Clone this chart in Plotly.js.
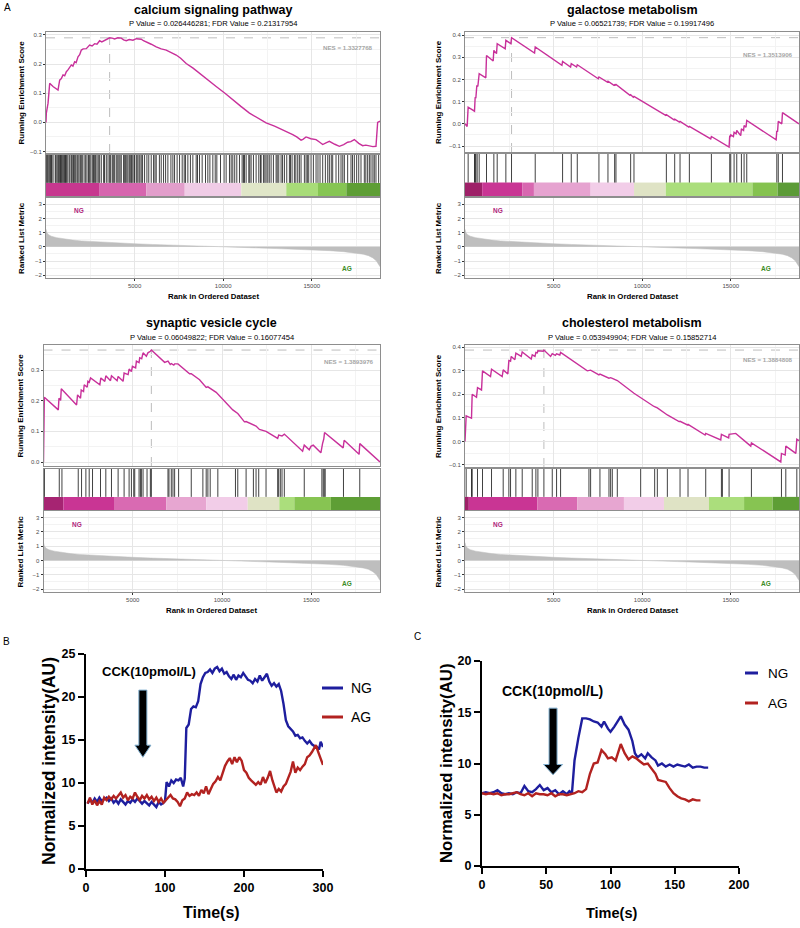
<!DOCTYPE html>
<html><head><meta charset="utf-8">
<script src="https://cdn.plot.ly/plotly-3.0.1.min.js"></script>
<style>html,body{margin:0;padding:0;background:#fff}#chart{width:800px;height:928px}</style>
</head><body><div id="chart"></div>
<script>
// ================= DATA =================
// Ranked list metric (shared ranked gene list)
const rankedRanks  = [1, 50, 150, 300, 600, 1000, 1500, 2000, 3000, 4000, 5000, 6000, 7000, 8000, 9000, 10000, 11000, 12000, 13000, 14000, 15000, 16000, 16800, 17400, 17900, 18200, 18450, 18650, 18850];
const rankedMetric = [1.25, 1.0, 0.85, 0.75, 0.65, 0.56, 0.48, 0.42, 0.34, 0.28, 0.22, 0.17, 0.12, 0.08, 0.04, 0.0, -0.04, -0.08, -0.12, -0.16, -0.21, -0.27, -0.34, -0.42, -0.52, -0.62, -0.78, -1.0, -1.4];
const rankTicks = [5000, 10000, 15000];

// --- calcium signaling pathway ---
const calciumTitle = 'calcium signaling pathway';
const calciumStats = 'P Value = 0.026446281; FDR Value = 0.21317954';
const calciumNES = 'NES = 1.3327768';
const calciumEsRank = [0,20,115,208,396,678,772,866,960,1054,1148,1240,1430,1520,1618,1700,1806,1900,1994,2100,2275,2370,2463,2600,2745,2877,3027,3150,3309,3450,3591,3741,3873,4050,4248,4380,4530,4700,4906,5100,5250,5376,5500,5658,5939,6221,6503,6785,7070,7349,7600,7912,8300,8664,9100,9604,10100,10543,11000,11483,11950,12422,12900,13362,13650,13925,14150,14395,14500,14677,14950,15241,15450,15616,15800,15992,16300,16556,16800,17025,17200,17402,17650,17871,18050,18247,18450,18623,18650,18717,18850];
const calciumEsScore = [0,0.032,0.066,0.134,0.123,0.111,0.145,0.150,0.163,0.160,0.174,0.180,0.197,0.193,0.208,0.205,0.225,0.232,0.248,0.252,0.253,0.258,0.265,0.262,0.270,0.268,0.280,0.276,0.282,0.285,0.290,0.289,0.286,0.290,0.289,0.283,0.280,0.284,0.282,0.287,0.285,0.285,0.280,0.276,0.268,0.259,0.252,0.248,0.240,0.231,0.220,0.202,0.186,0.168,0.145,0.123,0.100,0.077,0.055,0.032,0.015,-0.002,-0.013,-0.025,-0.035,-0.042,-0.050,-0.061,-0.058,-0.050,-0.056,-0.059,-0.068,-0.076,-0.070,-0.065,-0.075,-0.082,-0.076,-0.068,-0.066,-0.059,-0.072,-0.080,-0.078,-0.080,-0.083,-0.082,-0.050,0.000,0.004];
const calciumHits = [20,77,130,208,246,300,330,400,520,560,620,678,720,772,820,866,910,960,1010,1054,1100,1148,1200,1298,1350,1430,1480,1550,1600,1674,1749,1800,1862,1937,1990,2050,2150,2238,2313,2400,2463,2530,2614,2680,2745,2800,2877,2950,3027,3121,3252,3300,3403,3500,3591,3650,3741,3800,3873,3967,4050,4117,4180,4248,4380,4420,4493,4560,4624,4700,4756,4820,4868,4962,5000,5094,5150,5244,5300,5376,5450,5564,5695,5800,5939,6071,6150,6221,6400,6503,6635,6750,6879,7050,7161,7255,7400,7537,7687,7800,7875,8006,8150,8288,8476,8550,8664,8814,9002,9134,9250,9416,9550,9641,9848,10050,10167,10355,10450,10543,10650,10769,10919,11069,11150,11201,11295,11445,11500,11576,11708,11858,12008,12100,12140,12272,12350,12422,12516,12600,12704,12835,12986,13050,13136,13268,13350,13455,13587,13737,13800,13888,14019,14100,14207,14300,14395,14583,14677,14750,14827,14959,15090,15241,15350,15466,15616,15767,15900,15992,16100,16180,16368,16518,16650,16750,16838,17025,17213,17300,17402,17533,17650,17777,17965,18050,18153,18250,18341,18450,18529,18623,18773];
const calciumBandStart = [0,3030,5660,7830,11020,13560,15350,16950];
const calciumBandEnd   = [3030,5660,7830,11020,13560,15350,16950,18850];
const calciumBandColor = ['#C7378F','#D665AE','#E29ECB','#F0CCE6','#E0E6C8','#A8DC78','#86C553','#5E9E35'];

// --- galactose metabolism ---
const galactoseTitle = 'galactose metabolism';
const galactoseStats = 'P Value = 0.06521739; FDR Value = 0.19917496';
const galactoseNES = 'NES = 1.3513906';
const galactoseEsRank = [0,122,178,536,574,612,668,724,800,1176,1214,1591,1628,1779,1817,2269,2306,2589,2627,3926,3963,5470,5507,5959,5997,6298,6336,7522,7560,8031,8068,8407,8445,8480,8520,9310,9349,9500,9537,11326,11364,11797,11835,12100,12136,12630,12663,13868,13906,14904,14941,14970,14998,15150,15186,15300,15337,15560,15600,15720,15751,15860,15902,17560,17597,17640,17680,17880,17917,18850];
const galactoseEsScore = [0,-0.012,0.075,0.057,0.120,0.115,0.173,0.168,0.226,0.207,0.308,0.283,0.331,0.316,0.361,0.338,0.376,0.361,0.388,0.319,0.346,0.263,0.281,0.256,0.271,0.256,0.266,0.203,0.211,0.188,0.192,0.173,0.176,0.174,0.177,0.128,0.131,0.120,0.123,0.038,0.041,0.018,0.021,0.008,0.011,-0.015,-0.012,-0.068,-0.057,-0.105,-0.053,-0.060,-0.050,-0.058,-0.038,-0.045,-0.030,-0.053,-0.023,-0.030,-0.008,-0.015,0.015,-0.072,-0.032,-0.036,0.011,0.000,0.050,0.000];
const galactoseHits = [178,536,574,612,687,800,1214,1628,1817,2306,2626,3963,5507,5997,6336,7560,8068,8445,8520,9349,9537,11364,11835,12136,12663,13906,14941,14998,15186,15337,15600,15751,15902,17597,17680,17917];
const galactoseBandStart = [0,970,3230,3890,7090,9540,11330,16220,17640];
const galactoseBandEnd   = [970,3230,3890,7090,9540,11330,16220,17640,18850];
const galactoseBandColor = ['#9E2068','#C93594','#D867B0','#E6A3D0','#F2CDE8','#DFE3C5','#ABDE7C','#85C24F','#5C9B37'];

// --- synaptic vesicle cycle ---
const synapticTitle = 'synaptic vesicle cycle';
const synapticStats = 'P Value = 0.06049822; FDR Value = 0.16077454';
const synapticNES = 'NES = 1.3893976';
const synapticEsRank = [0,28,47,829,866,960,996,1853,1908,2075,2113,2243,2281,2449,2486,2560,2635,3156,3212,3435,3491,3752,3808,4124,4180,4459,4515,4740,4795,4925,4981,5160,5204,5353,5390,5500,5577,5763,5850,5986,6042,6787,6850,6973,7100,7159,7300,7346,7532,8183,8277,8742,9114,9208,9673,10200,10604,10883,11256,11349,11721,11907,12094,12466,13118,13174,13360,13490,14514,14607,14887,14980,15110,15538,15631,15700,15743,16786,16842,17680,17717,18850];
const synapticEsScore = [0,0.126,0.211,0.170,0.208,0.201,0.239,0.186,0.219,0.208,0.235,0.230,0.252,0.244,0.263,0.260,0.274,0.252,0.274,0.263,0.281,0.265,0.281,0.265,0.279,0.263,0.290,0.285,0.303,0.295,0.312,0.307,0.329,0.324,0.340,0.337,0.356,0.345,0.356,0.361,0.365,0.325,0.326,0.329,0.318,0.321,0.316,0.320,0.320,0.288,0.288,0.268,0.243,0.245,0.227,0.195,0.170,0.158,0.131,0.132,0.123,0.117,0.106,0.100,0.077,0.088,0.085,0.091,0.035,0.055,0.040,0.051,0.055,0.030,0.060,0.075,0.096,0.046,0.071,0.025,0.060,0.000];
const synapticHits = [20,45,884,1033,1946,2132,2374,2560,2746,3193,3491,3808,4180,4515,4795,4925,5055,5111,5353,5428,5484,5577,5800,5986,6042,6973,7029,7159,7252,7346,7569,8277,8928,9114,9208,9338,9766,10753,10883,11349,11758,11907,12056,12466,13118,13174,13267,13360,13490,14607,15594,15669,15725,15780,16804,17716];
const synapticBandStart = [0,1110,3990,6880,9120,11440,13210,14050,16100];
const synapticBandEnd   = [1110,3990,6880,9120,11440,13210,14050,16100,18850];
const synapticBandColor = ['#A62472','#C93594','#D96AB2','#E7A6D1','#F2CDE8','#DFE3C5','#ABDE7C','#87C452','#5E9E35'];

// --- cholesterol metabolism ---
const cholesterolTitle = 'cholesterol metabolism';
const cholesterolStats = 'P Value = 0.053949904; FDR Value = 0.15852714';
const cholesterolNES = 'NES = 1.3884808';
const cholesterolEsRank = [0,66,367,405,649,706,932,988,1440,1497,2099,2156,2419,2476,2570,2608,2815,2871,3173,3229,3737,3794,3950,4001,4080,4114,4415,4453,4830,4924,5100,5168,5350,5394,6901,6995,7089,7560,7616,8125,8219,8313,8596,9537,9914,10667,10855,11420,12079,12136,12550,12587,13550,13586,14433,14471,14527,14880,14904,15280,16127,16165,17822,17860,18070,18106,18671,18727,18850];
const cholesterolEsScore = [0,0.108,0.098,0.200,0.187,0.228,0.218,0.299,0.275,0.306,0.275,0.303,0.286,0.343,0.340,0.360,0.346,0.374,0.360,0.379,0.349,0.367,0.360,0.377,0.375,0.384,0.382,0.387,0.360,0.372,0.365,0.371,0.366,0.377,0.299,0.302,0.302,0.282,0.285,0.268,0.270,0.267,0.258,0.204,0.185,0.148,0.142,0.112,0.084,0.085,0.070,0.072,0.027,0.034,0.006,0.030,0.028,0.015,0.030,0.034,-0.020,-0.006,-0.087,-0.051,-0.058,-0.020,-0.051,0.009,0.003];
const cholesterolHits = [66,367,405,706,988,1497,2156,2476,2570,2871,3229,3794,4001,4114,4453,4924,5168,5394,6995,7089,7616,8125,8219,8313,8596,9914,10704,10855,11420,12136,12587,13586,14471,14527,14904,16165,17860,18105,18727];
const cholesterolBandStart = [0,215,4080,6340,8970,11230,13770,15750,17360];
const cholesterolBandEnd   = [215,4080,6340,8970,11230,13770,15750,17360,18850];
const cholesterolBandColor = ['#9E2068','#C93594','#D96AB2','#E7A6D1','#F2CDE8','#DFE3C5','#ABDE7C','#87C452','#5E9E35'];

// --- Panel B: calcium imaging (300 s) ---
const timeB_NG = [2,5,8,11,14,17,20,23,26,29,32,35,38,41,44,47,50,53,56,59,62,65,68,71,74,77,80,83,86,89,92,95,98,100,102,105,108,111,114,117,120,123,125,127,130,133,136,139,142,145,148,151,154,157,160,163,166,169,172,175,178,181,184,187,190,193,196,199,202,205,208,211,214,217,220,223,226,229,232,235,238,241,244,247,250,253,256,259,262,265,268,271,274,277,280,283,286,289,292,295,297,300];
const valB_NG  = [7.6,8.1,7.7,8.2,7.8,8.3,7.9,8.1,8.3,7.9,8.2,7.7,8.0,7.6,8.1,7.8,7.5,7.9,7.7,8.1,7.8,8.2,7.9,7.6,7.9,7.7,7.4,7.8,7.5,7.2,7.8,7.5,7.7,7.9,10.1,9.6,10.3,10.0,10.4,10.3,10.6,9.6,10.5,16.4,16.8,18.6,18.9,18.8,19.5,21.5,22.3,22.8,22.9,23.2,22.8,23.3,23.5,23.0,23.3,22.7,22.9,22.4,22.1,22.6,22.0,22.5,22.3,22.8,22.4,22.0,21.9,21.6,22.1,21.8,22.5,21.9,22.3,22.7,21.8,21.3,21.6,21.2,21.5,20.7,19.2,17.3,16.6,16.3,16.0,15.5,15.6,15.2,15.3,14.9,14.6,14.9,14.5,14.3,14.2,13.9,14.8,14.2];
const timeB_AG = [2,5,8,11,14,17,20,23,26,29,32,35,38,41,44,47,50,53,56,59,62,65,68,71,74,77,80,83,86,89,92,95,98,101,104,107,110,113,116,119,122,125,128,131,134,137,140,143,146,149,152,155,158,161,164,167,170,173,176,179,182,185,188,191,194,197,200,203,206,209,212,215,218,221,224,227,230,233,236,239,241,244,247,250,253,256,259,262,265,268,271,274,277,280,283,286,289,291,294,297,300];
const valB_AG  = [7.6,8.3,7.5,8.0,7.4,7.9,7.5,8.3,8.0,8.4,8.1,8.5,8.2,8.6,8.9,8.3,8.6,8.0,8.4,8.2,8.9,8.4,8.0,8.5,8.2,8.6,8.1,8.4,7.9,8.3,7.8,8.2,7.7,8.0,8.3,8.6,8.2,8.1,7.8,7.3,8.0,8.2,8.9,8.5,8.7,8.6,8.9,8.5,9.2,8.8,9.6,8.7,9.3,9.9,10.2,10.7,10.3,11.2,12.0,12.5,12.9,12.2,13.0,12.4,13.0,12.6,11.5,11.2,10.6,10.3,10.0,9.8,10.1,9.8,10.7,10.0,10.6,11.4,10.3,9.4,8.9,9.3,9.0,9.6,9.9,10.6,11.3,12.5,11.2,11.8,11.5,11.9,12.2,13.0,13.2,13.6,14.0,14.4,13.6,12.8,12.1];

// --- Panel C: calcium imaging (180 s) ---
const timeC_NG = [0,3,6,9,12,15,18,21,24,27,30,33,36,39,42,45,48,51,54,57,60,63,66,68,70,72,75,78,81,84,87,90,93,95,98,100,103,106,108,111,114,117,119,121,124,127,129,132,135,137,140,143,146,149,152,155,158,161,164,167,170,173,176];
const valC_NG  = [7.1,7.2,7.1,7.2,7.4,7.1,7.0,7.1,7.0,7.2,7.1,7.8,7.3,7.2,7.5,7.9,7.4,7.6,7.2,7.4,7.0,7.3,7.0,7.3,7.1,10.3,12.5,14.4,14.4,14.3,14.1,14.0,13.6,14.1,13.4,13.1,13.6,14.2,14.6,13.8,13.3,12.2,11.0,10.6,10.9,10.5,11.0,10.6,10.3,9.8,10.0,9.7,9.9,9.7,9.9,9.8,9.7,9.9,9.6,9.7,9.7,9.6,9.6];
const timeC_AG = [0,3,6,9,12,15,18,21,24,27,30,33,36,39,42,45,48,51,54,57,60,63,66,69,72,75,78,81,84,87,90,93,96,98,101,104,106,108,111,114,117,120,123,126,129,132,135,137,140,143,146,149,152,155,158,161,164,167,170,173,176];
const valC_AG  = [7.1,7.0,7.1,7.0,7.1,6.9,7.0,7.0,7.1,7.2,7.0,6.9,7.1,6.8,7.1,7.0,7.0,6.9,7.1,6.8,7.0,7.0,6.9,7.0,7.1,7.3,7.2,7.5,9.0,10.0,10.1,11.3,10.9,10.5,10.6,10.3,11.0,11.9,11.0,10.4,10.7,10.5,10.2,9.9,10.0,9.5,9.0,8.4,8.3,8.2,7.6,7.1,6.8,6.6,6.5,6.3,6.5,6.4,6.4];

const seriesNames = ['NG', 'AG'];
const stimulusLabel = 'CCK(10pmol/L)';

// ================= LAYOUT HELPERS =================
const W = 800, H = 928;
const FONT = 'Liberation Sans, Arial, Helvetica, sans-serif';
const PX = x => x / W, PY = y => 1 - y / H;
const XMAX = 18850;
const BORDER = '#8E8E8E', GRID = '#E6E6E6', GRID2 = '#F3F3F3';
const ES_COLOR = '#C8309A';
const NG_COLOR = '#1E1E9E', AG_COLOR = '#B22220';

const traces = [];
const layout = {
  width: W, height: H, margin: {l: 0, r: 0, t: 0, b: 0},
  paper_bgcolor: '#fff', plot_bgcolor: '#fff', showlegend: false,
  barmode: 'overlay', hovermode: false, annotations: [], shapes: []
};
const axName = (c, n) => c + 'axis' + (n === 1 ? '' : n);
const ref = (c, n) => c + (n === 1 ? '' : n);

function ann(text, x, y, font, extra) {
  layout.annotations.push(Object.assign({
    text, x: PX(x), y: PY(y), xref: 'paper', yref: 'paper', showarrow: false,
    xanchor: 'center', yanchor: 'middle', font: Object.assign({family: FONT, color: '#000'}, font)
  }, extra || {}));
}

const panels = [
  {title: calciumTitle, stats: calciumStats, nes: calciumNES, esR: calciumEsRank, esS: calciumEsScore, hits: calciumHits,
   bS: calciumBandStart, bE: calciumBandEnd, bC: calciumBandColor,
   x0: 46, x1: 380, esT: 32, esB: 153, rT: 155, rB: 196, mT: 198, mB: 278, esRange: [-0.105, 0.31],
   tY: 10, sY: 24, nesX: 375, nesY: 47.5, ngX: 79, ngY: 211, agX: 347, agY: 269, ytX: 21, xtY: 296},
  {title: galactoseTitle, stats: galactoseStats, nes: galactoseNES, esR: galactoseEsRank, esS: galactoseEsScore, hits: galactoseHits,
   bS: galactoseBandStart, bE: galactoseBandEnd, bC: galactoseBandColor,
   x0: 465, x1: 799, esT: 32, esB: 152, rT: 154, rB: 196, mT: 198, mB: 278, esRange: [-0.127, 0.4135],
   tY: 10, sY: 24, nesX: 795, nesY: 54, ngX: 498, ngY: 211, agX: 766, agY: 269, ytX: 438, xtY: 296},
  {title: synapticTitle, stats: synapticStats, nes: synapticNES, esR: synapticEsRank, esS: synapticEsScore, hits: synapticHits,
   bS: synapticBandStart, bE: synapticBandEnd, bC: synapticBandColor,
   x0: 43.5, x1: 380, esT: 345, esB: 466, rT: 469, rB: 510, mT: 511, mB: 592, esRange: [-0.013, 0.3815],
   tY: 323, sY: 337, nesX: 376, nesY: 361.5, ngX: 77, ngY: 524, agX: 347, agY: 583, ytX: 20, xtY: 610},
  {title: cholesterolTitle, stats: cholesterolStats, nes: cholesterolNES, esR: cholesterolEsRank, esS: cholesterolEsScore, hits: cholesterolHits,
   bS: cholesterolBandStart, bE: cholesterolBandEnd, bC: cholesterolBandColor,
   x0: 465, x1: 799, esT: 345, esB: 467, rT: 469, rB: 510, mT: 511, mB: 592, esRange: [-0.1085, 0.4085],
   tY: 323, sY: 337, nesX: 795, nesY: 359, ngX: 498, ngY: 524, agX: 766, agY: 583, ytX: 438, xtY: 610}
];

const tickFontSmall = {family: FONT, size: 6, color: '#4D4D4D'};
const minorX = {tickmode: 'array', tickvals: [2500, 7500, 12500, 17500], showgrid: true, gridcolor: GRID2, ticks: ''};

panels.forEach((p, k) => {
  const n1 = 3 * k + 1, n2 = n1 + 1, n3 = n1 + 2;
  const xd = [PX(p.x0), PX(p.x1)];
  const baseX = {domain: xd, range: [0, XMAX], showline: true, mirror: true, linecolor: BORDER, linewidth: 1,
                 zeroline: false, fixedrange: true, automargin: false};
  // ES subplot
  layout[axName('x', n1)] = Object.assign({}, baseX, {anchor: ref('y', n1), showticklabels: false, ticks: '',
    showgrid: true, gridcolor: GRID, tickmode: 'array', tickvals: rankTicks, minor: minorX});
  layout[axName('y', n1)] = {domain: [PY(p.esB), PY(p.esT)], range: p.esRange, anchor: ref('x', n1),
    tick0: 0, dtick: 0.1, tickformat: '.1f', ticks: 'outside', ticklen: 2, tickcolor: '#333', tickfont: tickFontSmall,
    showgrid: true, gridcolor: GRID, minor: {tick0: 0, dtick: 0.05, showgrid: true, gridcolor: GRID2, ticks: ''},
    showline: true, mirror: true, linecolor: BORDER, linewidth: 1, zeroline: false, fixedrange: true, automargin: false};
  // rug subplot
  layout[axName('x', n2)] = Object.assign({}, baseX, {anchor: ref('y', n2), showticklabels: false, ticks: '', showgrid: false});
  layout[axName('y', n2)] = {domain: [PY(p.rB), PY(p.rT)], range: [0, 1], anchor: ref('x', n2), showticklabels: false,
    ticks: '', showgrid: false, showline: true, mirror: true, linecolor: BORDER, linewidth: 1, zeroline: false, fixedrange: true};
  // metric subplot
  layout[axName('x', n3)] = Object.assign({}, baseX, {anchor: ref('y', n3), tickmode: 'array', tickvals: rankTicks,
    ticktext: rankTicks.map(String), ticks: 'outside', ticklen: 2, tickcolor: '#333', tickfont: tickFontSmall,
    showgrid: true, gridcolor: GRID, minor: minorX});
  layout[axName('y', n3)] = {domain: [PY(p.mB), PY(p.mT)], range: [-2.2, 3.45], anchor: ref('x', n3),
    tick0: 0, dtick: 1, ticks: 'outside', ticklen: 2, tickcolor: '#333', tickfont: tickFontSmall,
    showgrid: true, gridcolor: GRID, minor: {tick0: 0, dtick: 0.5, showgrid: true, gridcolor: GRID2, ticks: ''},
    showline: true, mirror: true, linecolor: BORDER, linewidth: 1, zeroline: false, fixedrange: true, automargin: false};

  // running enrichment score
  traces.push({type: 'scatter', mode: 'lines', x: p.esR, y: p.esS, xaxis: ref('x', n1), yaxis: ref('y', n1),
    line: {color: ES_COLOR, width: 1.4}, hoverinfo: 'skip'});
  // max ES dashed guides (derived from data)
  let im = 0; p.esS.forEach((v, i) => { if (v > p.esS[im]) im = i; });
  const maxR = p.esR[im], maxS = p.esS[im];
  layout.shapes.push({type: 'line', xref: ref('x', n1), yref: ref('y', n1), x0: maxR, x1: maxR, y0: p.esRange[0], y1: maxS,
    line: {color: '#B5B5B5', width: 0.9, dash: 'dash'}, layer: 'below'});
  layout.shapes.push({type: 'line', xref: ref('x', n1), yref: ref('y', n1), x0: 0, x1: XMAX, y0: maxS, y1: maxS,
    line: {color: '#B5B5B5', width: 0.9, dash: 'dash'}, layer: 'below'});

  // hit rug
  const rx = [], ry = [];
  p.hits.forEach(h => { rx.push(h, h, null); ry.push(0.32, 1, null); });
  traces.push({type: 'scatter', mode: 'lines', x: rx, y: ry, xaxis: ref('x', n2), yaxis: ref('y', n2),
    line: {color: '#111', width: 0.8}, hoverinfo: 'skip'});
  // colour band
  traces.push({type: 'bar', x: p.bS, y: p.bS.map(() => 0.32), base: 0, width: p.bE.map((e, i) => e - p.bS[i]), offset: 0,
    xaxis: ref('x', n2), yaxis: ref('y', n2), marker: {color: p.bC, line: {width: 0}}, hoverinfo: 'skip'});

  // ranked list metric
  traces.push({type: 'scatter', mode: 'lines', x: rankedRanks, y: rankedMetric, fill: 'tozeroy', fillcolor: '#BEBEBE',
    line: {color: '#BEBEBE', width: 0.5}, xaxis: ref('x', n3), yaxis: ref('y', n3), hoverinfo: 'skip'});

  const cx = (p.x0 + p.x1) / 2;
  ann(p.title, cx, p.tY, {size: 12.5, weight: 'bold'});
  ann(p.stats, cx, p.sY, {size: 7.6});
  ann(p.nes, p.nesX, p.nesY, {size: 6.2, weight: 'bold', color: '#A6A6A6'}, {xanchor: 'right'});
  ann(seriesNames[0], p.ngX, p.ngY, {size: 6.5, weight: 'bold', color: '#B0247C'});
  ann(seriesNames[1], p.agX, p.agY, {size: 6.5, weight: 'bold', color: '#3A8C24'});
  ann('Running Enrichment Score', p.ytX, (p.esT + p.esB) / 2, {size: 8, weight: 'bold'}, {textangle: -90});
  ann('Ranked List Metric', p.ytX, (p.mT + p.mB) / 2, {size: 8, weight: 'bold'}, {textangle: -90});
  ann('Rank in Ordered Dataset', cx, p.xtY, {size: 7.8, weight: 'bold'});
});

ann('A', 2, 7, {size: 10}, {xanchor: 'left'});

// ================= Panels B and C =================
const bigTick = {family: FONT, size: 12.5, color: '#000', weight: 'bold'};
function timeAxes(n, cfg) {
  layout[axName('x', n)] = {domain: [PX(cfg.x0), PX(cfg.x1)], range: cfg.xr, anchor: ref('y', n), tick0: 0, dtick: cfg.xd,
    ticks: 'outside', ticklen: 6, tickwidth: 2, tickcolor: '#000', tickfont: bigTick, showline: true, linewidth: 2,
    linecolor: '#000', showgrid: false, zeroline: false, fixedrange: true, automargin: false};
  layout[axName('y', n)] = {domain: [PY(cfg.yB), PY(cfg.yT)], range: cfg.yr, anchor: ref('x', n), tick0: 0, dtick: 5,
    ticks: 'outside', ticklen: 6, tickwidth: 2, tickcolor: '#000', tickfont: bigTick, showline: true, linewidth: 2,
    linecolor: '#000', showgrid: false, zeroline: false, fixedrange: true, automargin: false};
}
timeAxes(13, {x0: 86, x1: 323, yT: 654, yB: 869, xr: [0, 300], yr: [0, 25], xd: 100});
timeAxes(14, {x0: 482, x1: 739, yT: 661, yB: 866, xr: [0, 200], yr: [0, 20], xd: 50});

traces.push({type: 'scatter', mode: 'lines', x: timeB_NG, y: valB_NG, xaxis: 'x13', yaxis: 'y13', line: {color: NG_COLOR, width: 2.4}, cliponaxis: false});
traces.push({type: 'scatter', mode: 'lines', x: timeB_AG, y: valB_AG, xaxis: 'x13', yaxis: 'y13', line: {color: AG_COLOR, width: 2.4}, cliponaxis: false});
traces.push({type: 'scatter', mode: 'lines', x: timeC_NG, y: valC_NG, xaxis: 'x14', yaxis: 'y14', line: {color: NG_COLOR, width: 2.4}});
traces.push({type: 'scatter', mode: 'lines', x: timeC_AG, y: valC_AG, xaxis: 'x14', yaxis: 'y14', line: {color: AG_COLOR, width: 2.4}});

// axis titles, labels, legends
ann('Normalized intensity(AU)', 49, 761, {size: 17.5, weight: 'bold'}, {textangle: -90});
ann('Time(s)', 211, 912, {size: 16, weight: 'bold'});
ann(stimulusLabel, 149, 671, {size: 13, weight: 'bold'});
ann('B', 6, 641, {size: 10});
ann('Normalized intensity(AU)', 446, 763, {size: 16.8, weight: 'bold'}, {textangle: -90});
ann('Time(s)', 611, 913, {size: 14.5, weight: 'bold'});
ann(stimulusLabel, 552, 691, {size: 14, weight: 'bold'});
ann('C', 417, 636, {size: 10});

// legends (paper-positioned swatches)
[[322, 343, 688, NG_COLOR, 349, 14], [322, 343, 717, AG_COLOR, 349, 14],
 [745, 758, 673, NG_COLOR, 766, 13.5], [745, 758, 703, AG_COLOR, 766, 13.5]].forEach((l, i) => {
  layout.shapes.push({type: 'line', xref: 'paper', yref: 'paper', x0: PX(l[0]), x1: PX(l[1]), y0: PY(l[2]), y1: PY(l[2]),
    line: {color: l[3], width: 3}});
  ann(seriesNames[i % 2], l[4], l[2], {size: l[5]}, {xanchor: 'left'});
});

// stimulus arrows (x anchored at data time, widths in pixels)
function arrow(xr, yr, t, yTop, yHead, yTip, bw, hw) {
  layout.shapes.push({type: 'path', xref: xr, yref: yr, xsizemode: 'pixel', xanchor: t,
    path: `M ${-bw},${yTop} L ${bw},${yTop} L ${bw},${yHead} L ${hw},${yHead} L 0,${yTip} L ${-hw},${yHead} L ${-bw},${yHead} Z`,
    fillcolor: '#000', line: {color: '#7FAFD0', width: 1}});
}
arrow('x13', 'y13', 72, 20.8, 14.4, 13.0, 4, 8);
arrow('x14', 'y14', 55.3, 15.4, 9.9, 8.9, 4, 9.5);

Plotly.newPlot('chart', traces, layout, {staticPlot: true, displayModeBar: false});
</script></body></html>
